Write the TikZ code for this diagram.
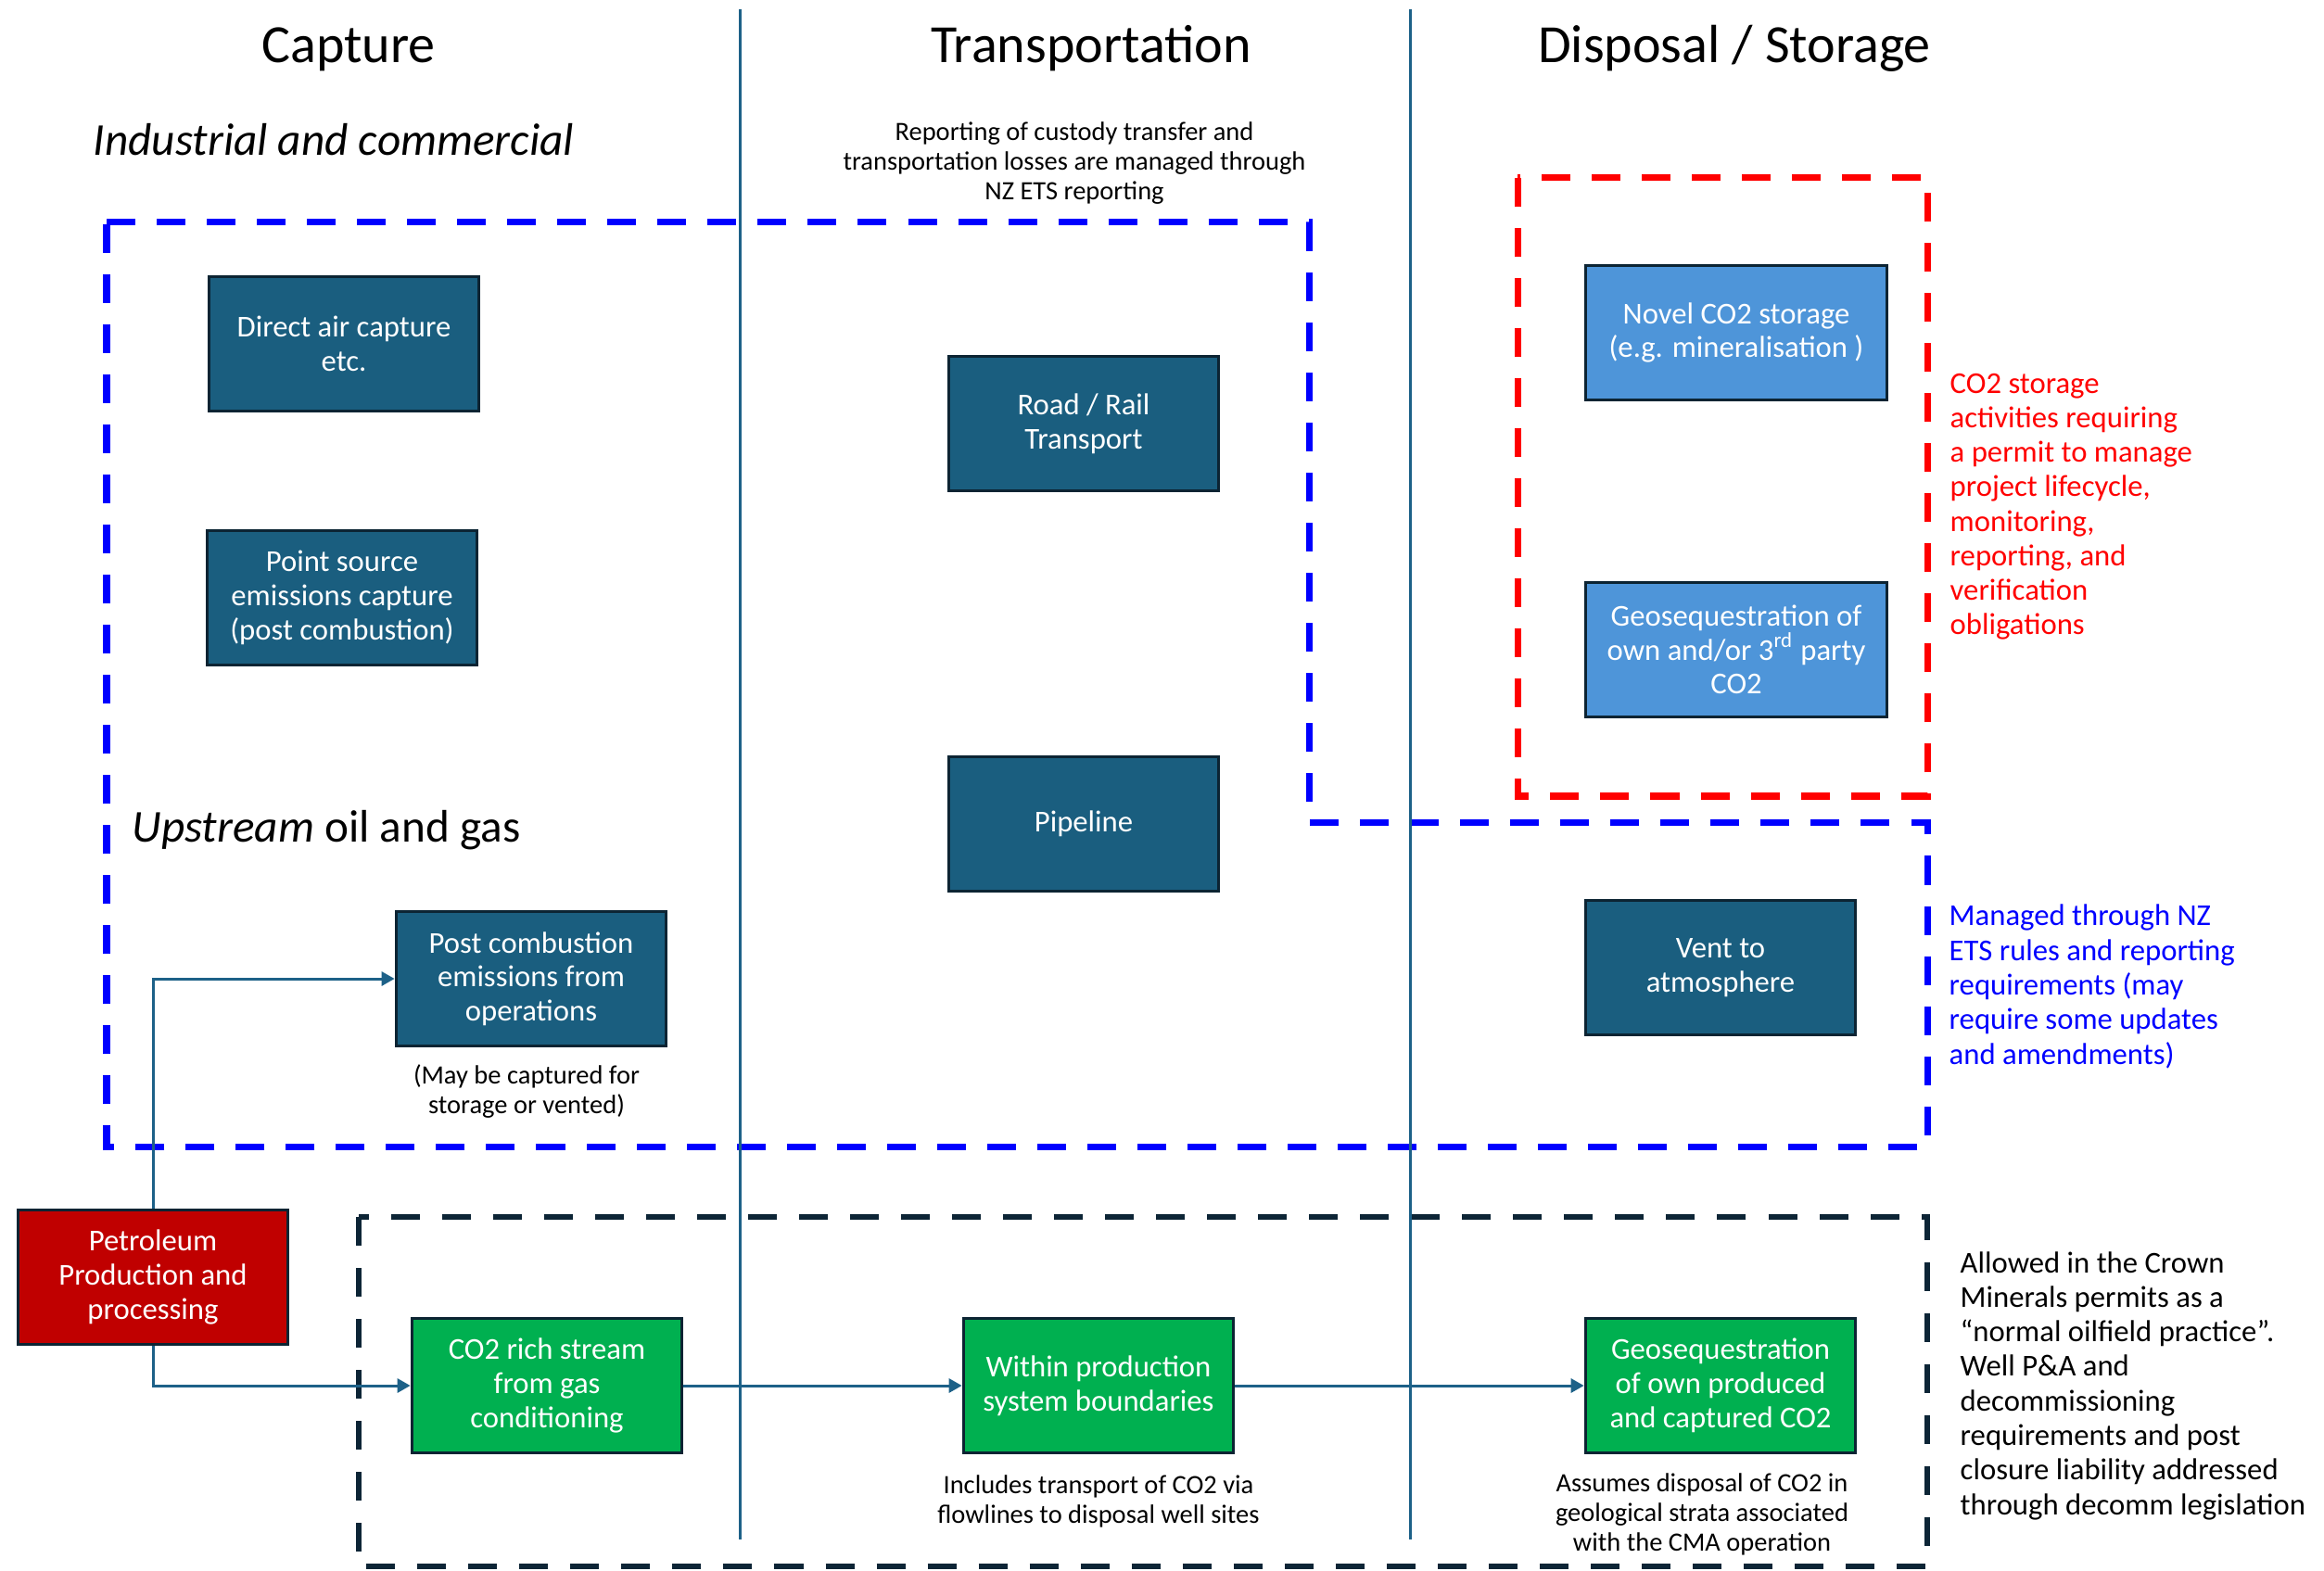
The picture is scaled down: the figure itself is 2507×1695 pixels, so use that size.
\documentclass[tikz,border=0pt]{standalone}
\usepackage{fontspec}
\setmainfont{Carlito}
\usetikzlibrary{arrows.meta}
\definecolor{tealbox}{HTML}{1A5E7F}
\definecolor{boxborder}{HTML}{0C2433}
\definecolor{lightbox}{HTML}{4E95D9}
\definecolor{redbox}{HTML}{C00000}
\definecolor{greenbox}{HTML}{00B050}
\definecolor{linecol}{HTML}{1D6188}
\definecolor{darkdash}{HTML}{0D2536}
\definecolor{pureblue}{HTML}{0000FF}
\definecolor{purered}{HTML}{FF0000}
\tikzset{
  box/.style={draw=boxborder, line width=0.035cm, minimum width=2.91cm, minimum height=1.45cm,
    text=white, align=center, inner sep=0pt, font=\fontsize{9.3}{10.44}\selectfont},
  tbox/.style={box, fill=tealbox},
  lbox/.style={box, fill=lightbox, minimum width=3.25cm},
  rbox/.style={box, fill=redbox},
  gbox/.style={box, fill=greenbox},
  coltitle/.style={inner sep=0pt, font=\fontsize{16.5}{19}\selectfont},
  subhead/.style={inner sep=0pt, font=\fontsize{14}{16.5}\selectfont},
  note/.style={inner sep=0pt, align=center, font=\fontsize{8.1}{9.1}\selectfont},
  side/.style={inner sep=0pt, align=left, font=\fontsize{9.3}{10.6}\selectfont},
  divider/.style={draw=linecol, line width=0.03cm},
  arr/.style={draw=linecol, line width=0.03cm, -{Triangle[length=0.14cm,width=0.15cm]}},
  bluedash/.style={draw=pureblue, line width=0.07cm, dash pattern=on 0.31cm off 0.23cm},
  reddash/.style={draw=purered, line width=0.07cm, dash pattern=on 0.31cm off 0.23cm},
  blackdash/.style={draw=darkdash, line width=0.06cm, dash pattern=on 0.31cm off 0.24cm},
}
\begin{document}
\begin{tikzpicture}[x=0.01cm, y=-0.01cm]
\useasboundingbox (0,0) rectangle (2507,1695);

% dashed regions
\draw[bluedash] (115,240) -- (1412,240) -- (1412,887) -- (2079,887) -- (2079,1237) -- (115,1237) -- cycle;
\draw[reddash] (1637,192) rectangle (2079,859);
\draw[blackdash] (387,1313) rectangle (2079,1690);

% column dividers
\draw[divider] (798,10) -- (798,1661);
\draw[divider] (1521,10) -- (1521,1661);

% column titles
\node[coltitle, anchor=base] (tcap) at (376,68) {Capture};
\node[coltitle, anchor=base] (ttr) at (1177,68) {Transportation};
\node[coltitle, anchor=base] (tds) at (1871,68) {Disposal / Storage};

\node[subhead, anchor=base west] (ind) at (100,168) {\itshape Industrial and commercial};
\node[subhead, anchor=base west] (ups) at (142,908) {\textit{Upstream} oil and gas};

% boxes
\node[tbox] (dac) at (371,371) {Direct air capture\\etc.};
\node[tbox] (psc) at (369,645) {Point source\\emissions capture\\(post combustion)};
\node[tbox] (road) at (1169,457) {Road / Rail\\Transport};
\node[tbox] (pipe) at (1169,889) {Pipeline};
\node[tbox] (post) at (573,1056) {Post combustion\\emissions from\\operations};
\node[lbox] (novel) at (1873,359) {Novel CO2 storage\\(e.g. mineralisation )};
\node[lbox] (geo3) at (1873,701) {Geosequestration of\\own and/or 3\textsuperscript{rd} party\\CO2};
\node[tbox] (vent) at (1856,1044) {Vent to\\atmosphere};
\node[rbox] (petro) at (165,1378) {Petroleum\\Production and\\processing};
\node[gbox] (rich) at (590,1495) {CO2 rich stream\\from gas\\conditioning};
\node[gbox] (within) at (1185,1495) {Within production\\system boundaries};
\node[gbox] (geoown) at (1856,1495) {Geosequestration\\of own produced\\and captured CO2};

% connectors
\draw[arr] (petro.north) |- (post.west);
\draw[arr] (petro.south) |- (rich.west);
\draw[arr] (rich.east) -- (within.west);
\draw[arr] (within.east) -- (geoown.west);

% notes (anchor=base = baseline of last line)
\node[note, anchor=base] (rep) at (1159,216) {Reporting of custody transfer and\\transportation losses are managed through\\NZ ETS reporting};
\node[note, anchor=base] (may) at (568,1201) {(May be captured for\\storage or vented)};
\node[note, anchor=base] (inc) at (1185,1643) {Includes transport of CO2 via\\flowlines to disposal well sites};
\node[note, anchor=base] (ass) at (1836,1673) {Assumes disposal of CO2 in\\geological strata associated\\with the CMA operation};

% side texts
\node[side, text=purered, anchor=base west] (rtxt) at (2103,685) {CO2 storage\\activities requiring\\a permit to manage\\project lifecycle,\\monitoring,\\reporting, and\\verification\\obligations};
\node[side, text=pureblue, anchor=base west] (btxt) at (2102,1148) {Managed through NZ\\ETS rules and reporting\\requirements (may\\require some updates\\and amendments)};
\node[side, anchor=base west] (ktxt) at (2114,1634) {Allowed in the Crown\\Minerals permits as a\\“normal oilfield practice”.\\Well P\&A and\\decommissioning\\requirements and post\\closure liability addressed\\through decomm legislation};
\end{tikzpicture}
\end{document}
